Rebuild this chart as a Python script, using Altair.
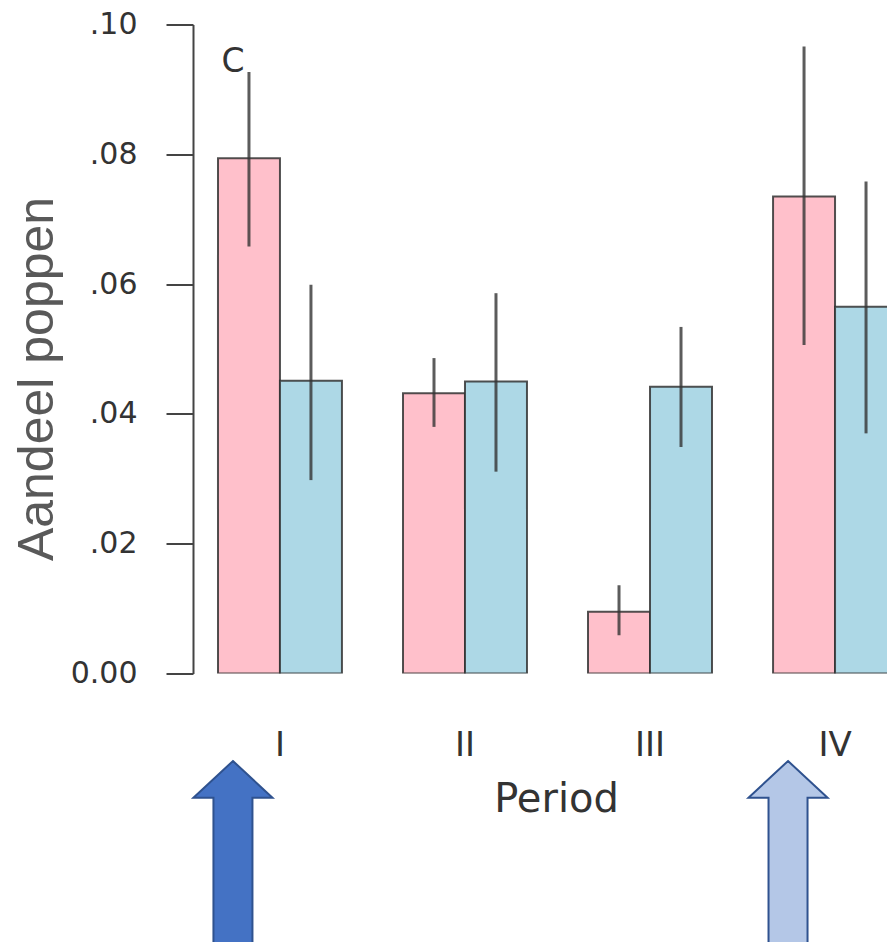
import altair as alt
import pandas as pd

# ---- data ----
periods = ["I", "II", "III", "IV"]
groups = ["a", "b"]  # a = pink bars, b = light-blue bars
pink_mean = [0.0794, 0.0432, 0.0095, 0.0735]
pink_lo = [0.0658, 0.0380, 0.0059, 0.0506]
pink_hi = [0.0927, 0.0486, 0.0136, 0.0966]
blue_mean = [0.0451, 0.0450, 0.0442, 0.0565]
blue_lo = [0.0298, 0.0311, 0.0349, 0.0370]
blue_hi = [0.0599, 0.0586, 0.0534, 0.0758]
y_ticks = [0.0, 0.02, 0.04, 0.06, 0.08, 0.10]
bar_colors = ["pink", "lightblue"]

arrow_periods = ["I", "IV"]
arrow_fills = ["#4472C4", "#B4C7E7"]
annot_period = ["I"]
annot_text = ["C"]

rows = []
for i, p in enumerate(periods):
    rows.append({"period": p, "grp": "a", "mean": pink_mean[i], "lo": pink_lo[i], "hi": pink_hi[i]})
    rows.append({"period": p, "grp": "b", "mean": blue_mean[i], "lo": blue_lo[i], "hi": blue_hi[i]})
df = pd.DataFrame(rows)
arrows = pd.DataFrame({"period": arrow_periods, "fill": arrow_fills})
annot = pd.DataFrame({"period": annot_period, "label": annot_text})

R_FONT = "DejaVu Sans"

x_enc = alt.X(
    "period:N",
    sort=periods,
    scale=alt.Scale(domain=periods, range=[0, 729], paddingInner=0.33, paddingOuter=0.135),
    axis=alt.Axis(
        title="Period",
        domain=False,
        ticks=False,
        labelAngle=0,
        labelFont=R_FONT,
        labelFontSize=34,
        labelColor="#333333",
        labelPadding=55,
        titleFont=R_FONT,
        titleFontSize=40,
        titleFontWeight="normal",
        titleColor="#333333",
        titleX=363,
        titleY=138,
        titleBaseline="alphabetic",
        titleAnchor="middle",
        titleAlign="center",
    ),
)
x_plain = alt.X("period:N", sort=periods)
xoff = alt.XOffset("grp:N", sort=groups, scale=alt.Scale(domain=groups, paddingInner=0, paddingOuter=0))
y_enc = alt.Y(
    "mean:Q",
    scale=alt.Scale(domain=[0, 0.10], nice=False, zero=True),
    axis=alt.Axis(
        title="Aandeel poppen",
        values=y_ticks,
        labelExpr="datum.value == 0 ? '0.00' : substring(format(datum.value, '.2f'), 1)",
        grid=False,
        domainColor="#444444",
        domainWidth=2,
        tickColor="#444444",
        tickWidth=2,
        tickSize=27,
        labelPadding=29,
        labelFont=R_FONT,
        labelFontSize=30,
        labelColor="#333333",
        labelBaseline="middle",
        titleFont="Liberation Sans",
        titleFontSize=50,
        titleFontWeight="normal",
        titleColor="#595959",
        titleX=-156,
        titleY=354,
        titleBaseline="middle",
        titleAngle=270,
    ),
)

bars = alt.Chart(df).mark_bar(clip=True, stroke="#333333", strokeWidth=2, strokeOpacity=0.85).encode(
    x=x_enc,
    xOffset=xoff,
    y=y_enc,
    fill=alt.Fill("grp:N", scale=alt.Scale(domain=groups, range=bar_colors), legend=None),
)

errs = alt.Chart(df).mark_rule(clip=True, color="#333333", strokeWidth=3, opacity=0.8).encode(
    x=x_plain,
    xOffset=xoff,
    y="lo:Q",
    y2="hi:Q",
)

c_text = alt.Chart(annot).mark_text(
    font=R_FONT, fontSize=33, color="#333333", align="center", baseline="alphabetic", dx=-47
).encode(x=x_plain, y=alt.value(47.5), text="label:N")

# block-arrow outline, drawn a little left of the period's centre
arrow_path = (
    "M-0.511,-1 L-0.081,-0.6 L-0.299,-0.6 L-0.299,1 L-0.723,1 "
    "L-0.723,-0.6 L-0.941,-0.6 Z"
)
arrow_marks = alt.Chart(arrows).mark_point(
    shape=arrow_path, filled=True, size=33856, stroke="#2F528F", strokeWidth=2, opacity=1
).encode(
    x=x_plain,
    y=alt.value(828.5),
    fill=alt.Fill("fill:N", scale=None),
)

chart = (
    alt.layer(bars, errs, c_text, arrow_marks)
    .properties(
        width=694,
        height=649,
        autosize=alt.AutoSizeParams(type="none"),
        padding={"left": 185, "top": 16.5, "right": 0, "bottom": 268.5},
        background="white",
    )
    .configure_view(stroke=None)
)

chart.save("out.html", embed_options={"renderer": "svg", "actions": False})
